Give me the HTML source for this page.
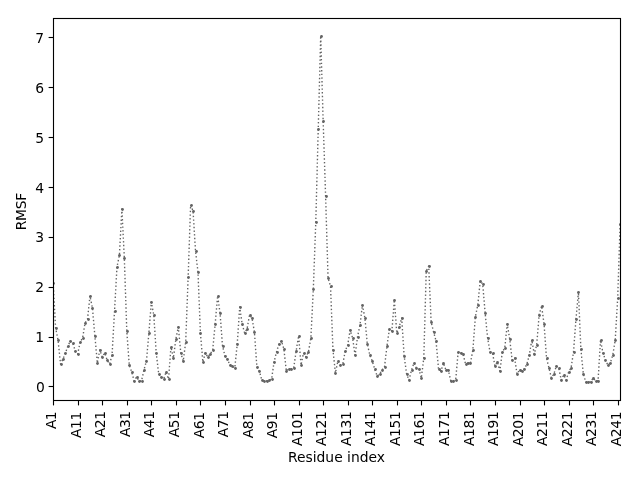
<!DOCTYPE html>
<html><head><meta charset="utf-8"><title>RMSF</title>
<style>
html,body{margin:0;padding:0;background:#fff;}
body{width:640px;height:480px;overflow:hidden;}
svg{display:block;}
text{font-family:"DejaVu Sans","Liberation Sans",sans-serif;font-size:13.889px;fill:#000;}
</style></head>
<body>
<svg width="640" height="480" viewBox="0 0 640 480">
<rect width="640" height="480" fill="#fff"/>
<defs><clipPath id="ax"><rect x="53.15" y="18.2" width="567" height="381.9"/></clipPath></defs>
<g clip-path="url(#ax)">
<polyline points="53.15,283.00 55.61,328.00 58.06,340.00 60.52,364.00 62.97,359.00 65.43,353.00 67.88,346.00 70.33,341.00 72.79,343.00 75.24,351.00 77.70,354.00 80.15,342.00 82.61,338.00 85.06,323.00 87.52,319.00 89.97,296.00 92.43,308.00 94.88,336.00 97.33,363.00 99.79,350.00 102.24,357.00 104.70,353.00 107.15,360.00 109.61,364.00 112.06,355.00 114.52,311.00 116.97,267.00 119.42,255.00 121.88,209.00 124.33,258.00 126.79,331.00 129.24,365.00 131.70,372.00 134.15,381.00 136.61,377.00 139.06,381.00 141.52,381.00 143.97,370.00 146.42,361.00 148.88,333.00 151.33,302.00 153.79,315.00 156.24,353.00 158.70,374.00 161.15,377.00 163.61,379.00 166.06,372.00 168.52,379.00 170.97,347.00 173.42,358.00 175.88,339.00 178.33,327.00 180.79,353.00 183.24,361.00 185.70,342.00 188.15,277.00 190.61,205.00 193.06,211.00 195.51,251.00 197.97,272.00 200.42,333.00 202.88,362.00 205.33,353.00 207.79,357.00 210.24,354.00 212.70,350.00 215.15,324.00 217.61,296.00 220.06,313.00 222.51,346.00 224.97,356.00 227.42,359.00 229.88,365.00 232.33,366.00 234.79,368.00 237.24,344.00 239.70,307.00 242.15,324.00 244.61,333.00 247.06,329.00 249.51,315.00 251.97,318.00 254.42,332.00 256.88,367.00 259.33,371.00 261.79,380.00 264.24,381.00 266.70,381.00 269.15,380.00 271.61,379.00 274.06,362.00 276.51,352.00 278.97,344.00 281.42,341.00 283.88,349.00 286.33,371.00 288.79,369.00 291.24,369.00 293.70,368.00 296.15,351.00 298.60,336.00 301.06,365.00 303.51,353.00 305.97,357.00 308.42,352.00 310.88,338.00 313.33,289.00 315.79,222.00 318.24,129.00 320.70,36.00 323.15,121.00 325.60,196.00 328.06,278.00 330.51,286.00 332.97,350.00 335.42,373.00 337.88,361.00 340.33,365.00 342.79,364.00 345.24,351.00 347.70,345.00 350.15,330.00 352.60,338.00 355.06,355.00 357.51,337.00 359.97,325.00 362.42,305.00 364.88,318.00 367.33,344.00 369.79,355.00 372.24,361.00 374.69,369.00 377.15,376.00 379.60,374.00 382.06,370.00 384.51,367.00 386.97,346.00 389.42,329.00 391.88,331.00 394.33,300.00 396.79,333.00 399.24,327.00 401.69,318.00 404.15,356.00 406.60,374.00 409.06,380.00 411.51,370.00 413.97,363.00 416.42,368.00 418.88,369.00 421.33,378.00 423.79,358.00 426.24,271.00 428.69,266.00 431.15,322.00 433.60,332.00 436.06,341.00 438.51,369.00 440.97,371.00 443.42,363.00 445.88,370.00 448.33,370.00 450.78,381.00 453.24,381.00 455.69,380.00 458.15,352.00 460.60,353.00 463.06,354.00 465.51,364.00 467.97,363.00 470.42,363.00 472.88,350.00 475.33,317.00 477.78,305.00 480.24,281.00 482.69,284.00 485.15,313.00 487.60,338.00 490.06,352.00 492.51,353.00 494.97,366.00 497.42,362.00 499.88,371.00 502.33,352.00 504.78,348.00 507.24,324.00 509.69,339.00 512.15,360.00 514.60,358.00 517.06,374.00 519.51,370.00 521.97,371.00 524.42,369.00 526.88,364.00 529.33,355.00 531.78,340.00 534.24,354.00 536.69,345.00 539.15,315.00 541.60,306.00 544.06,324.00 546.51,358.00 548.97,368.00 551.42,378.00 553.87,374.00 556.33,366.00 558.78,368.00 561.24,380.00 563.69,375.00 566.15,380.00 568.60,372.00 571.06,368.00 573.51,352.00 575.97,319.00 578.42,292.00 580.87,349.00 583.33,374.00 585.78,382.00 588.24,382.00 590.69,382.00 593.15,378.00 595.60,381.00 598.06,381.00 600.51,340.00 602.97,353.00 605.42,360.00 607.87,365.00 610.33,363.00 612.78,355.00 615.24,340.00 617.69,298.00 620.15,224.00" fill="none" stroke="#636363" stroke-width="1.39" stroke-dasharray="1.39 2.29" stroke-linejoin="round"/>
<g fill="#636363"><circle cx="53.5" cy="283.5" r="1.39"/><circle cx="56.5" cy="328.5" r="1.39"/><circle cx="58.5" cy="340.5" r="1.39"/><circle cx="61.5" cy="364.5" r="1.39"/><circle cx="63.5" cy="359.5" r="1.39"/><circle cx="65.5" cy="353.5" r="1.39"/><circle cx="68.5" cy="346.5" r="1.39"/><circle cx="70.5" cy="341.5" r="1.39"/><circle cx="73.5" cy="343.5" r="1.39"/><circle cx="75.5" cy="351.5" r="1.39"/><circle cx="78.5" cy="354.5" r="1.39"/><circle cx="80.5" cy="342.5" r="1.39"/><circle cx="83.5" cy="338.5" r="1.39"/><circle cx="85.5" cy="323.5" r="1.39"/><circle cx="88.5" cy="319.5" r="1.39"/><circle cx="90.5" cy="296.5" r="1.39"/><circle cx="92.5" cy="308.5" r="1.39"/><circle cx="95.5" cy="336.5" r="1.39"/><circle cx="97.5" cy="363.5" r="1.39"/><circle cx="100.5" cy="350.5" r="1.39"/><circle cx="102.5" cy="357.5" r="1.39"/><circle cx="105.5" cy="353.5" r="1.39"/><circle cx="107.5" cy="360.5" r="1.39"/><circle cx="110.5" cy="364.5" r="1.39"/><circle cx="112.5" cy="355.5" r="1.39"/><circle cx="115.5" cy="311.5" r="1.39"/><circle cx="117.5" cy="267.5" r="1.39"/><circle cx="119.5" cy="255.5" r="1.39"/><circle cx="122.5" cy="209.5" r="1.39"/><circle cx="124.5" cy="258.5" r="1.39"/><circle cx="127.5" cy="331.5" r="1.39"/><circle cx="129.5" cy="365.5" r="1.39"/><circle cx="132.5" cy="372.5" r="1.39"/><circle cx="134.5" cy="381.5" r="1.39"/><circle cx="137.5" cy="377.5" r="1.39"/><circle cx="139.5" cy="381.5" r="1.39"/><circle cx="142.5" cy="381.5" r="1.39"/><circle cx="144.5" cy="370.5" r="1.39"/><circle cx="146.5" cy="361.5" r="1.39"/><circle cx="149.5" cy="333.5" r="1.39"/><circle cx="151.5" cy="302.5" r="1.39"/><circle cx="154.5" cy="315.5" r="1.39"/><circle cx="156.5" cy="353.5" r="1.39"/><circle cx="159.5" cy="374.5" r="1.39"/><circle cx="161.5" cy="377.5" r="1.39"/><circle cx="164.5" cy="379.5" r="1.39"/><circle cx="166.5" cy="372.5" r="1.39"/><circle cx="169.5" cy="379.5" r="1.39"/><circle cx="171.5" cy="347.5" r="1.39"/><circle cx="173.5" cy="358.5" r="1.39"/><circle cx="176.5" cy="339.5" r="1.39"/><circle cx="178.5" cy="327.5" r="1.39"/><circle cx="181.5" cy="353.5" r="1.39"/><circle cx="183.5" cy="361.5" r="1.39"/><circle cx="186.5" cy="342.5" r="1.39"/><circle cx="188.5" cy="277.5" r="1.39"/><circle cx="191.5" cy="205.5" r="1.39"/><circle cx="193.5" cy="211.5" r="1.39"/><circle cx="196.5" cy="251.5" r="1.39"/><circle cx="198.5" cy="272.5" r="1.39"/><circle cx="200.5" cy="333.5" r="1.39"/><circle cx="203.5" cy="362.5" r="1.39"/><circle cx="205.5" cy="353.5" r="1.39"/><circle cx="208.5" cy="357.5" r="1.39"/><circle cx="210.5" cy="354.5" r="1.39"/><circle cx="213.5" cy="350.5" r="1.39"/><circle cx="215.5" cy="324.5" r="1.39"/><circle cx="218.5" cy="296.5" r="1.39"/><circle cx="220.5" cy="313.5" r="1.39"/><circle cx="223.5" cy="346.5" r="1.39"/><circle cx="225.5" cy="356.5" r="1.39"/><circle cx="227.5" cy="359.5" r="1.39"/><circle cx="230.5" cy="365.5" r="1.39"/><circle cx="232.5" cy="366.5" r="1.39"/><circle cx="235.5" cy="368.5" r="1.39"/><circle cx="237.5" cy="344.5" r="1.39"/><circle cx="240.5" cy="307.5" r="1.39"/><circle cx="242.5" cy="324.5" r="1.39"/><circle cx="245.5" cy="333.5" r="1.39"/><circle cx="247.5" cy="329.5" r="1.39"/><circle cx="250.5" cy="315.5" r="1.39"/><circle cx="252.5" cy="318.5" r="1.39"/><circle cx="254.5" cy="332.5" r="1.39"/><circle cx="257.5" cy="367.5" r="1.39"/><circle cx="259.5" cy="371.5" r="1.39"/><circle cx="262.5" cy="380.5" r="1.39"/><circle cx="264.5" cy="381.5" r="1.39"/><circle cx="267.5" cy="381.5" r="1.39"/><circle cx="269.5" cy="380.5" r="1.39"/><circle cx="272.5" cy="379.5" r="1.39"/><circle cx="274.5" cy="362.5" r="1.39"/><circle cx="277.5" cy="352.5" r="1.39"/><circle cx="279.5" cy="344.5" r="1.39"/><circle cx="281.5" cy="341.5" r="1.39"/><circle cx="284.5" cy="349.5" r="1.39"/><circle cx="286.5" cy="371.5" r="1.39"/><circle cx="289.5" cy="369.5" r="1.39"/><circle cx="291.5" cy="369.5" r="1.39"/><circle cx="294.5" cy="368.5" r="1.39"/><circle cx="296.5" cy="351.5" r="1.39"/><circle cx="299.5" cy="336.5" r="1.39"/><circle cx="301.5" cy="365.5" r="1.39"/><circle cx="304.5" cy="353.5" r="1.39"/><circle cx="306.5" cy="357.5" r="1.39"/><circle cx="308.5" cy="352.5" r="1.39"/><circle cx="311.5" cy="338.5" r="1.39"/><circle cx="313.5" cy="289.5" r="1.39"/><circle cx="316.5" cy="222.5" r="1.39"/><circle cx="318.5" cy="129.5" r="1.39"/><circle cx="321.5" cy="36.5" r="1.39"/><circle cx="323.5" cy="121.5" r="1.39"/><circle cx="326.5" cy="196.5" r="1.39"/><circle cx="328.5" cy="278.5" r="1.39"/><circle cx="331.5" cy="286.5" r="1.39"/><circle cx="333.5" cy="350.5" r="1.39"/><circle cx="335.5" cy="373.5" r="1.39"/><circle cx="338.5" cy="361.5" r="1.39"/><circle cx="340.5" cy="365.5" r="1.39"/><circle cx="343.5" cy="364.5" r="1.39"/><circle cx="345.5" cy="351.5" r="1.39"/><circle cx="348.5" cy="345.5" r="1.39"/><circle cx="350.5" cy="330.5" r="1.39"/><circle cx="353.5" cy="338.5" r="1.39"/><circle cx="355.5" cy="355.5" r="1.39"/><circle cx="358.5" cy="337.5" r="1.39"/><circle cx="360.5" cy="325.5" r="1.39"/><circle cx="362.5" cy="305.5" r="1.39"/><circle cx="365.5" cy="318.5" r="1.39"/><circle cx="367.5" cy="344.5" r="1.39"/><circle cx="370.5" cy="355.5" r="1.39"/><circle cx="372.5" cy="361.5" r="1.39"/><circle cx="375.5" cy="369.5" r="1.39"/><circle cx="377.5" cy="376.5" r="1.39"/><circle cx="380.5" cy="374.5" r="1.39"/><circle cx="382.5" cy="370.5" r="1.39"/><circle cx="385.5" cy="367.5" r="1.39"/><circle cx="387.5" cy="346.5" r="1.39"/><circle cx="389.5" cy="329.5" r="1.39"/><circle cx="392.5" cy="331.5" r="1.39"/><circle cx="394.5" cy="300.5" r="1.39"/><circle cx="397.5" cy="333.5" r="1.39"/><circle cx="399.5" cy="327.5" r="1.39"/><circle cx="402.5" cy="318.5" r="1.39"/><circle cx="404.5" cy="356.5" r="1.39"/><circle cx="407.5" cy="374.5" r="1.39"/><circle cx="409.5" cy="380.5" r="1.39"/><circle cx="412.5" cy="370.5" r="1.39"/><circle cx="414.5" cy="363.5" r="1.39"/><circle cx="416.5" cy="368.5" r="1.39"/><circle cx="419.5" cy="369.5" r="1.39"/><circle cx="421.5" cy="378.5" r="1.39"/><circle cx="424.5" cy="358.5" r="1.39"/><circle cx="426.5" cy="271.5" r="1.39"/><circle cx="429.5" cy="266.5" r="1.39"/><circle cx="431.5" cy="322.5" r="1.39"/><circle cx="434.5" cy="332.5" r="1.39"/><circle cx="436.5" cy="341.5" r="1.39"/><circle cx="439.5" cy="369.5" r="1.39"/><circle cx="441.5" cy="371.5" r="1.39"/><circle cx="443.5" cy="363.5" r="1.39"/><circle cx="446.5" cy="370.5" r="1.39"/><circle cx="448.5" cy="370.5" r="1.39"/><circle cx="451.5" cy="381.5" r="1.39"/><circle cx="453.5" cy="381.5" r="1.39"/><circle cx="456.5" cy="380.5" r="1.39"/><circle cx="458.5" cy="352.5" r="1.39"/><circle cx="461.5" cy="353.5" r="1.39"/><circle cx="463.5" cy="354.5" r="1.39"/><circle cx="466.5" cy="364.5" r="1.39"/><circle cx="468.5" cy="363.5" r="1.39"/><circle cx="470.5" cy="363.5" r="1.39"/><circle cx="473.5" cy="350.5" r="1.39"/><circle cx="475.5" cy="317.5" r="1.39"/><circle cx="478.5" cy="305.5" r="1.39"/><circle cx="480.5" cy="281.5" r="1.39"/><circle cx="483.5" cy="284.5" r="1.39"/><circle cx="485.5" cy="313.5" r="1.39"/><circle cx="488.5" cy="338.5" r="1.39"/><circle cx="490.5" cy="352.5" r="1.39"/><circle cx="493.5" cy="353.5" r="1.39"/><circle cx="495.5" cy="366.5" r="1.39"/><circle cx="497.5" cy="362.5" r="1.39"/><circle cx="500.5" cy="371.5" r="1.39"/><circle cx="502.5" cy="352.5" r="1.39"/><circle cx="505.5" cy="348.5" r="1.39"/><circle cx="507.5" cy="324.5" r="1.39"/><circle cx="510.5" cy="339.5" r="1.39"/><circle cx="512.5" cy="360.5" r="1.39"/><circle cx="515.5" cy="358.5" r="1.39"/><circle cx="517.5" cy="374.5" r="1.39"/><circle cx="520.5" cy="370.5" r="1.39"/><circle cx="522.5" cy="371.5" r="1.39"/><circle cx="524.5" cy="369.5" r="1.39"/><circle cx="527.5" cy="364.5" r="1.39"/><circle cx="529.5" cy="355.5" r="1.39"/><circle cx="532.5" cy="340.5" r="1.39"/><circle cx="534.5" cy="354.5" r="1.39"/><circle cx="537.5" cy="345.5" r="1.39"/><circle cx="539.5" cy="315.5" r="1.39"/><circle cx="542.5" cy="306.5" r="1.39"/><circle cx="544.5" cy="324.5" r="1.39"/><circle cx="547.5" cy="358.5" r="1.39"/><circle cx="549.5" cy="368.5" r="1.39"/><circle cx="551.5" cy="378.5" r="1.39"/><circle cx="554.5" cy="374.5" r="1.39"/><circle cx="556.5" cy="366.5" r="1.39"/><circle cx="559.5" cy="368.5" r="1.39"/><circle cx="561.5" cy="380.5" r="1.39"/><circle cx="564.5" cy="375.5" r="1.39"/><circle cx="566.5" cy="380.5" r="1.39"/><circle cx="569.5" cy="372.5" r="1.39"/><circle cx="571.5" cy="368.5" r="1.39"/><circle cx="574.5" cy="352.5" r="1.39"/><circle cx="576.5" cy="319.5" r="1.39"/><circle cx="578.5" cy="292.5" r="1.39"/><circle cx="581.5" cy="349.5" r="1.39"/><circle cx="583.5" cy="374.5" r="1.39"/><circle cx="586.5" cy="382.5" r="1.39"/><circle cx="588.5" cy="382.5" r="1.39"/><circle cx="591.5" cy="382.5" r="1.39"/><circle cx="593.5" cy="378.5" r="1.39"/><circle cx="596.5" cy="381.5" r="1.39"/><circle cx="598.5" cy="381.5" r="1.39"/><circle cx="601.5" cy="340.5" r="1.39"/><circle cx="603.5" cy="353.5" r="1.39"/><circle cx="605.5" cy="360.5" r="1.39"/><circle cx="608.5" cy="365.5" r="1.39"/><circle cx="610.5" cy="363.5" r="1.39"/><circle cx="613.5" cy="355.5" r="1.39"/><circle cx="615.5" cy="340.5" r="1.39"/><circle cx="618.5" cy="298.5" r="1.39"/><circle cx="620.5" cy="224.5" r="1.39"/></g>
</g>
<g stroke="#000" stroke-width="1.11" fill="none"><path d="M53.5 400.5V405.4"/><path d="M78.5 400.5V405.4"/><path d="M102.5 400.5V405.4"/><path d="M127.5 400.5V405.4"/><path d="M151.5 400.5V405.4"/><path d="M176.5 400.5V405.4"/><path d="M200.5 400.5V405.4"/><path d="M225.5 400.5V405.4"/><path d="M250.5 400.5V405.4"/><path d="M274.5 400.5V405.4"/><path d="M299.5 400.5V405.4"/><path d="M323.5 400.5V405.4"/><path d="M348.5 400.5V405.4"/><path d="M372.5 400.5V405.4"/><path d="M397.5 400.5V405.4"/><path d="M421.5 400.5V405.4"/><path d="M446.5 400.5V405.4"/><path d="M470.5 400.5V405.4"/><path d="M495.5 400.5V405.4"/><path d="M520.5 400.5V405.4"/><path d="M544.5 400.5V405.4"/><path d="M569.5 400.5V405.4"/><path d="M593.5 400.5V405.4"/><path d="M618.5 400.5V405.4"/><path d="M48.6 386.5H53.5"/><path d="M48.6 337.5H53.5"/><path d="M48.6 287.5H53.5"/><path d="M48.6 237.5H53.5"/><path d="M48.6 187.5H53.5"/><path d="M48.6 137.5H53.5"/><path d="M48.6 87.5H53.5"/><path d="M48.6 37.5H53.5"/>
<rect x="53.5" y="18.5" width="567" height="382"/>
</g>
<g><text x="44.90" y="392.00" text-anchor="end">0</text><text x="44.00" y="342.00" text-anchor="end">1</text><text x="44.00" y="292.00" text-anchor="end">2</text><text x="44.00" y="242.00" text-anchor="end">3</text><text x="44.00" y="193.00" text-anchor="end">4</text><text x="44.00" y="143.00" text-anchor="end">5</text><text x="44.00" y="93.00" text-anchor="end">6</text><text x="44.00" y="43.00" text-anchor="end">7</text></g>
<g><text transform="translate(55.50 411.90) rotate(-90)" text-anchor="end" letter-spacing="-0.60">A1</text><text transform="translate(80.50 412.15) rotate(-90)" text-anchor="end" letter-spacing="-0.40">A11</text><text transform="translate(104.50 411.40) rotate(-90)" text-anchor="end" letter-spacing="-0.40">A21</text><text transform="translate(129.50 411.40) rotate(-90)" text-anchor="end" letter-spacing="-0.50">A31</text><text transform="translate(153.50 411.40) rotate(-90)" text-anchor="end" letter-spacing="-0.40">A41</text><text transform="translate(178.50 411.40) rotate(-90)" text-anchor="end" letter-spacing="-0.40">A51</text><text transform="translate(203.50 412.40) rotate(-90)" text-anchor="end" letter-spacing="-0.40">A61</text><text transform="translate(227.50 411.40) rotate(-90)" text-anchor="end" letter-spacing="-0.40">A71</text><text transform="translate(252.50 412.40) rotate(-90)" text-anchor="end" letter-spacing="-0.40">A81</text><text transform="translate(276.50 412.40) rotate(-90)" text-anchor="end" letter-spacing="-0.40">A91</text><text transform="translate(301.50 411.65) rotate(-90)" text-anchor="end" letter-spacing="-0.40">A101</text><text transform="translate(325.50 411.65) rotate(-90)" text-anchor="end" letter-spacing="-0.40">A121</text><text transform="translate(350.50 411.65) rotate(-90)" text-anchor="end" letter-spacing="-0.40">A131</text><text transform="translate(374.50 411.65) rotate(-90)" text-anchor="end" letter-spacing="-0.40">A141</text><text transform="translate(399.50 411.65) rotate(-90)" text-anchor="end" letter-spacing="-0.40">A151</text><text transform="translate(423.50 411.65) rotate(-90)" text-anchor="end" letter-spacing="-0.40">A161</text><text transform="translate(448.50 411.65) rotate(-90)" text-anchor="end" letter-spacing="-0.40">A171</text><text transform="translate(473.50 411.65) rotate(-90)" text-anchor="end" letter-spacing="-0.40">A181</text><text transform="translate(497.50 411.65) rotate(-90)" text-anchor="end" letter-spacing="-0.40">A191</text><text transform="translate(522.50 411.90) rotate(-90)" text-anchor="end" letter-spacing="-0.40">A201</text><text transform="translate(546.50 411.65) rotate(-90)" text-anchor="end" letter-spacing="-0.40">A211</text><text transform="translate(571.50 411.90) rotate(-90)" text-anchor="end" letter-spacing="-0.40">A221</text><text transform="translate(595.50 411.65) rotate(-90)" text-anchor="end" letter-spacing="-0.40">A231</text><text transform="translate(620.50 411.90) rotate(-90)" text-anchor="end" letter-spacing="-0.40">A241</text></g>
<text x="336.5" y="461.5" text-anchor="middle" letter-spacing="0.0">Residue index</text>
<text transform="translate(25.5 211.75) rotate(-90)" text-anchor="middle" letter-spacing="-0.3">RMSF</text>
</svg>
</body></html>
